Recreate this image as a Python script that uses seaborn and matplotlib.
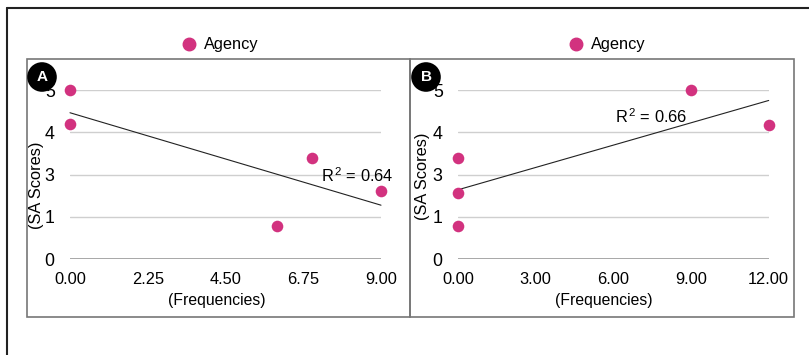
import numpy as np
import pandas as pd
import matplotlib.pyplot as plt
import seaborn as sns
from matplotlib.patches import Rectangle, Circle
from matplotlib.lines import Line2D

# Panel A: frequencies vs SA scores (y read as drawn on the evenly spaced axis)
freq_a = [0, 0, 7, 6, 9]
score_a = [4.0, 3.19, 2.38, 0.79, 1.6]

# Panel B
freq_b = [9, 12, 0, 0, 0]
score_b = [4.0, 3.17, 2.38, 1.57, 0.77]

xticks_a = [0, 2.25, 4.5, 6.75, 9]
xticks_b = [0, 3, 6, 9, 12]
ytick_labels = ['0', '1', '3', '4', '5']
r2_labels = ['0.64', '0.66']
panel_letters = ['A', 'B']
series_name = 'Agency'

sns.set_style('white')
plt.rcParams['font.family'] = ['Liberation Sans', 'DejaVu Sans']
plt.rcParams['mathtext.fontset'] = 'custom'
plt.rcParams['mathtext.rm'] = 'Liberation Sans'
plt.rcParams['mathtext.it'] = 'Liberation Sans'
for k in ['text.color', 'axes.labelcolor', 'xtick.color', 'ytick.color']:
    plt.rcParams[k] = 'black'

W, H = 809, 355
fig = plt.figure(figsize=(W / 100, H / 100), dpi=100)
pink = '#d2327f'
fs = 11.3

# pixel layout for each panel
panels = [
    dict(x=freq_a, y=score_a, ticks=xticks_a, ax_px=(70, 381), box=(27, 410),
         circ=(42, 77), leg=(218, 45), r2=(7.26, 1.97), ylab=(44, 185), xlab=(217, 293)),
    dict(x=freq_b, y=score_b, ticks=xticks_b, ax_px=(458, 768.7), box=(410, 794),
         circ=(426, 77), leg=(605, 45), r2=(6.06, 3.37), ylab=(430, 176), xlab=(604, 293)),
]

top_px, bot_px = 90, 259
for i, p in enumerate(panels):
    x0, x1 = p['ax_px']
    ax = fig.add_axes([x0 / W, (H - bot_px) / H, (x1 - x0) / W, (bot_px - top_px) / H])
    df = pd.DataFrame({'Frequencies': p['x'], 'SA Scores': p['y']})
    sns.regplot(data=df, x='Frequencies', y='SA Scores', ax=ax, ci=None, truncate=True,
                label=series_name,
                scatter_kws=dict(s=70, color=pink, alpha=1, linewidths=0, clip_on=False, zorder=4),
                line_kws=dict(color='#222222', lw=0.8, clip_on=False, zorder=3))
    ax.set_xlim(p['ticks'][0], p['ticks'][-1])
    ax.set_ylim(0, len(ytick_labels) - 1)
    ax.set_xticks(p['ticks'])
    ax.set_xticklabels([f'{t:.2f}' for t in p['ticks']], fontsize=fs + 0.5)
    ax.set_yticks(range(len(ytick_labels)))
    ax.set_yticklabels(ytick_labels, fontsize=fs + 1.5)
    ax.tick_params(axis='x', length=0, pad=9)
    ax.tick_params(axis='y', length=0, pad=11)
    for s in ax.spines.values():
        s.set_visible(False)
    ax.grid(axis='y', color='#cfcfcf', lw=1)
    ax.axhline(0, color='#9a9a9a', lw=1.2, zorder=2)
    ax.set_xlabel('(Frequencies)', fontsize=fs)
    ax.set_ylabel('(SA Scores)', fontsize=fs + 0.5)
    # label positions in pixel -> axes coords
    lx, ly = p['xlab']
    ax.xaxis.set_label_coords((lx - x0) / (x1 - x0), (bot_px - ly) / (bot_px - top_px))
    yx, yy = p['ylab']
    ax.yaxis.set_label_coords((yx - x0) / (x1 - x0), (bot_px - yy) / (bot_px - top_px))
    ax.text(p['r2'][0], p['r2'][1], r'R$^{\,2}$ = ' + r2_labels[i], fontsize=fs + 0.5,
            va='center', ha='left', zorder=5)

    # legend above panel
    handle = Line2D([], [], marker='o', ls='', color=pink, markersize=9)
    lgx, lgy = p['leg']
    fig.legend([handle], [series_name], loc='center', bbox_to_anchor=(lgx / W, (H - lgy) / H),
               frameon=False, fontsize=fs + 0.5, handletextpad=0.15, handlelength=1.5,
               borderaxespad=0)

    # panel box
    bx0, bx1 = p['box']
    fig.add_artist(Rectangle((bx0 / W, (H - 317) / H), (bx1 - bx0) / W, (317 - 59) / H,
                             transform=fig.transFigure, fill=False, ec='#777777', lw=1.2))
    # panel letter
    cx, cy = p['circ']
    fig.add_artist(Circle((cx / 100, (H - cy) / 100), 0.148, transform=fig.dpi_scale_trans,
                          fc='black', ec='none', zorder=10))
    fig.text(cx / W, (H - cy) / H, panel_letters[i], color='white', fontsize=11,
             fontweight='bold', ha='center', va='center', zorder=11)

# outer frame (runs off right and bottom edges)
fig.add_artist(Line2D([6.5 / W, 1.0], [(H - 8) / H, (H - 8) / H], transform=fig.transFigure,
                      color='#222222', lw=1.5))
fig.add_artist(Line2D([6.5 / W, 6.5 / W], [0, (H - 8) / H], transform=fig.transFigure,
                      color='#222222', lw=1.5))

fig.savefig('out.png', dpi=100, facecolor='white')
